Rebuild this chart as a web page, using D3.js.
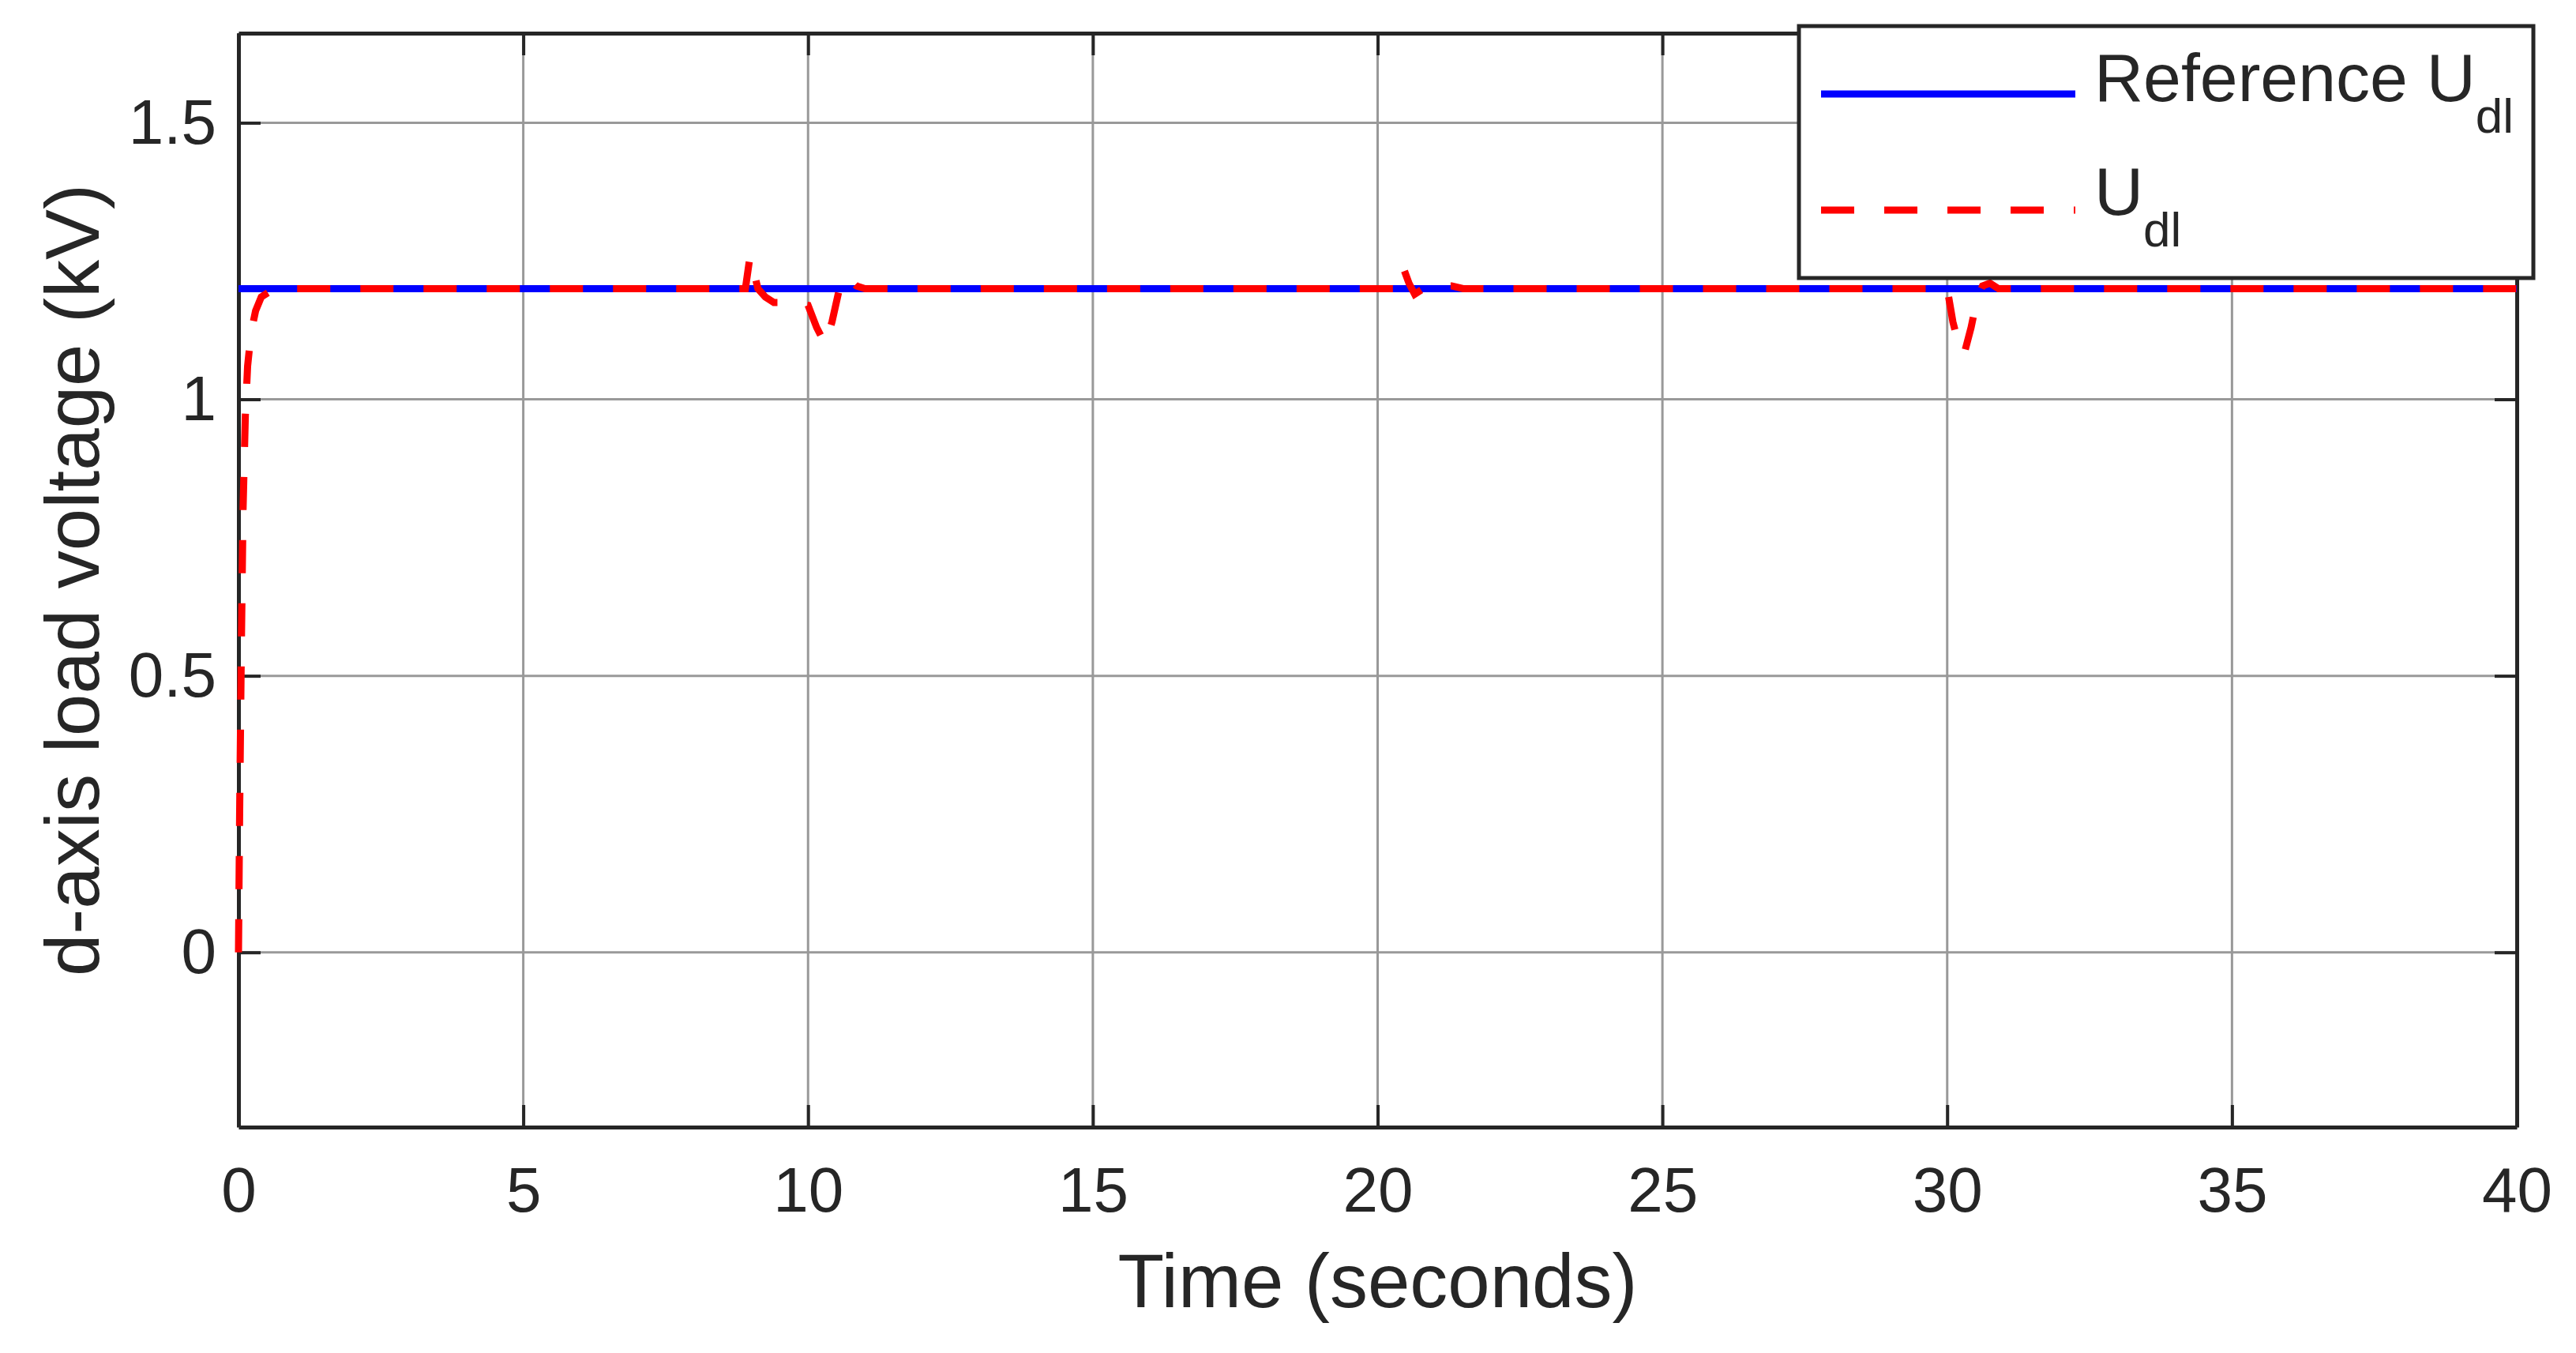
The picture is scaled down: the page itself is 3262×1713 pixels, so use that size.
<!DOCTYPE html>
<html>
<head>
<meta charset="utf-8">
<script src="https://cdn.jsdelivr.net/npm/d3@7"></script>
<style>
  body { margin: 0; background: #fff; }
  text { font-family: "Liberation Sans", Arial, sans-serif; fill: #262626; }
</style>
</head>
<body>
<svg id="chart" width="3262" height="1713"></svg>
<script>
// reference voltage (kV)
const refTime = [0, 40];
const refValue = [1.2, 1.2];

const udlTime = [0, 0.02, 0.05, 0.08, 0.12, 0.16, 0.22, 0.3, 0.4, 0.55, 0.75, 8.9, 8.98, 9.05, 9.12, 9.25, 9.4, 9.7, 10.0, 10.15, 10.3, 10.42, 10.55, 10.68, 10.85, 11.0,
  20.35, 20.45, 20.55, 20.65, 20.8, 21.1, 21.3, 21.5, 30.0, 30.1, 30.2, 30.3, 30.42, 30.52, 30.62, 30.75, 30.9, 40];
const udlValue = [0, 0.25, 0.55, 0.8, 0.97, 1.06, 1.12, 1.16, 1.185, 1.195, 1.2, 1.2, 1.258, 1.23, 1.2, 1.185, 1.175, 1.175, 1.17, 1.13, 1.1, 1.14, 1.2, 1.222, 1.205, 1.2,
  1.2, 1.238, 1.21, 1.19, 1.2, 1.205, 1.205, 1.2, 1.2, 1.14, 1.1, 1.083, 1.13, 1.18, 1.205, 1.21, 1.2, 1.2];

const xTicks = [0, 5, 10, 15, 20, 25, 30, 35, 40];
const yTicks = [0, 0.5, 1, 1.5];

const svg = d3.select("#chart");
const plotL = 302, plotR = 3187, plotT = 42, plotB = 1427;

const x = d3.scaleLinear().domain([0, 40]).range([plotL, plotR]);
const y = d3.scaleLinear().domain([-0.316, 1.662]).range([plotB, plotT]);

// grid
svg.append("g").selectAll("line").data(xTicks).join("line")
  .attr("x1", d => x(d)).attr("x2", d => x(d)).attr("y1", plotT).attr("y2", plotB)
  .attr("stroke", "#999").attr("stroke-width", 3);
svg.append("g").selectAll("line").data(yTicks).join("line")
  .attr("x1", plotL).attr("x2", plotR).attr("y1", d => y(d)).attr("y2", d => y(d))
  .attr("stroke", "#999").attr("stroke-width", 3);

// axes with inward ticks
const xAxis = svg.append("g").attr("transform", `translate(0,${plotB})`)
  .call(d3.axisBottom(x).tickValues(xTicks).tickSizeInner(-28).tickSizeOuter(0).tickPadding(50));
const xAxisTop = svg.append("g").attr("transform", `translate(0,${plotT})`)
  .call(d3.axisTop(x).tickValues(xTicks).tickSizeInner(-28).tickSizeOuter(0).tickFormat(""));
const yAxis = svg.append("g").attr("transform", `translate(${plotL},0)`)
  .call(d3.axisLeft(y).tickValues(yTicks).tickSizeInner(-28).tickSizeOuter(0).tickPadding(28).tickFormat(d3.format("")));
const yAxisRight = svg.append("g").attr("transform", `translate(${plotR},0)`)
  .call(d3.axisRight(y).tickValues(yTicks).tickSizeInner(-28).tickSizeOuter(0).tickFormat(""));
[xAxis, xAxisTop, yAxis, yAxisRight].forEach(a => {
  a.select(".domain").attr("stroke", "#262626").attr("stroke-width", 5);
  a.selectAll(".tick line").attr("stroke", "#262626").attr("stroke-width", 4);
  a.selectAll("text").style("font-size", "80px").attr("fill", "#262626")
    .style("font-family", '"Liberation Sans", Arial, sans-serif');
});
xAxis.selectAll("text").attr("dy", "0.71em");

// lines
const line = d3.line().x(d => x(d[0])).y(d => y(d[1]));
svg.append("path").datum(d3.zip(refTime, refValue)).attr("d", line)
  .attr("fill", "none").attr("stroke", "#0000ff").attr("stroke-width", 9);
svg.append("path").datum(d3.zip(udlTime, udlValue)).attr("d", line)
  .attr("fill", "none").attr("stroke", "#ff0000").attr("stroke-width", 9)
  .attr("stroke-dasharray", "42,38");

// axis labels
svg.append("text").attr("x", (plotL + plotR) / 2).attr("y", 1655).attr("text-anchor", "middle")
  .style("font-size", "96px").text("Time (seconds)");
svg.append("text").attr("transform", `translate(125,${(plotT + plotB) / 2}) rotate(-90)`)
  .attr("text-anchor", "middle").style("font-size", "96px").text("d-axis load voltage (kV)");

// legend
const lg = svg.append("g");
lg.append("rect").attr("x", 2278).attr("y", 33).attr("width", 930).attr("height", 319)
  .attr("fill", "#fff").attr("stroke", "#262626").attr("stroke-width", 5);
lg.append("line").attr("x1", 2306).attr("x2", 2628).attr("y1", 119).attr("y2", 119)
  .attr("stroke", "#0000ff").attr("stroke-width", 9);
lg.append("line").attr("x1", 2306).attr("x2", 2628).attr("y1", 266).attr("y2", 266)
  .attr("stroke", "#ff0000").attr("stroke-width", 9).attr("stroke-dasharray", "42,38");
const t1 = lg.append("text").attr("x", 2652).attr("y", 128).style("font-size", "86px");
t1.append("tspan").text("Reference U");
t1.append("tspan").attr("dy", 40).style("font-size", "62px").text("dl");
const t2 = lg.append("text").attr("x", 2652).attr("y", 272).style("font-size", "86px");
t2.append("tspan").text("U");
t2.append("tspan").attr("dy", 40).style("font-size", "62px").text("dl");
</script>
</body>
</html>
